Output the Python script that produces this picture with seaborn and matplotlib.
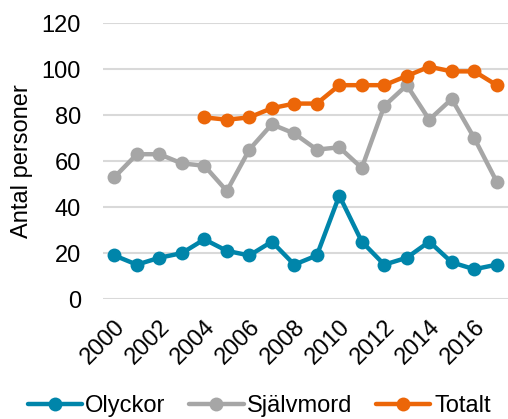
import numpy as np
import pandas as pd
import matplotlib
matplotlib.use("Agg")
import matplotlib.pyplot as plt
import seaborn as sns

years = list(range(2000, 2018))
olyckor = [19, 15, 18, 20, 26, 21, 19, 25, 15, 19, 45, 25, 15, 18, 25, 16, 13, 15]
sjalvmord = [53, 63, 63, 59, 58, 47, 65, 76, 72, 65, 66, 57, 84, 93, 78, 87, 70, 51]
totalt = [np.nan] * 4 + [79, 78, 79, 83, 85, 85, 93, 93, 93, 97, 101, 99, 99, 93]
tick_years = list(range(2000, 2017, 2))

df = pd.DataFrame({"År": years, "Olyckor": olyckor,
                   "Självmord": sjalvmord, "Totalt": totalt})
long = df.melt(id_vars="År", var_name="Serie", value_name="Antal")

sns.set_style("white")
plt.rcParams["font.family"] = ["Liberation Sans", "DejaVu Sans"]
plt.rcParams["text.color"] = "black"
plt.rcParams["xtick.color"] = "black"
plt.rcParams["ytick.color"] = "black"
plt.rcParams["axes.labelcolor"] = "black"

palette = {"Olyckor": "#0085AA", "Självmord": "#A6A6A6", "Totalt": "#EC6608"}

fig, ax = plt.subplots(figsize=(5.08, 4.19), dpi=100)
sns.lineplot(data=long, x="År", y="Antal", hue="Serie", palette=palette,
             marker="o", markersize=10, markeredgewidth=0, linewidth=3.2,
             ax=ax)

ax.set_ylim(0, 120)
ax.set_yticks(range(0, 121, 20))
ax.set_xlim(1999.5, 2017.5)
ax.set_xticks(tick_years)
ax.set_xticklabels([str(y) for y in tick_years],
                   rotation=45, ha="right", rotation_mode="anchor")
ax.tick_params(axis="both", labelsize=17, length=0, colors="black")
ax.tick_params(axis="x", pad=12)
ax.tick_params(axis="y", pad=16)
ax.yaxis.grid(True, color="#D9D9D9", linewidth=1.5)
ax.set_axisbelow(True)
for s in ax.spines.values():
    s.set_visible(False)
ax.set_xlabel("")
ax.set_ylabel("Antal personer", fontsize=17, labelpad=6, color="black")

handles, labels = ax.get_legend_handles_labels()
ax.get_legend().remove()
fig.legend(handles, labels, loc="center", bbox_to_anchor=(0.51, 13 / 419),
           ncol=3, frameon=False, fontsize=17, handlelength=2.3,
           columnspacing=1.0, handletextpad=0.15, borderaxespad=0)

fig.subplots_adjust(left=0.203, right=1.0, top=0.945, bottom=0.286)
fig.savefig("out.png", dpi=100)
